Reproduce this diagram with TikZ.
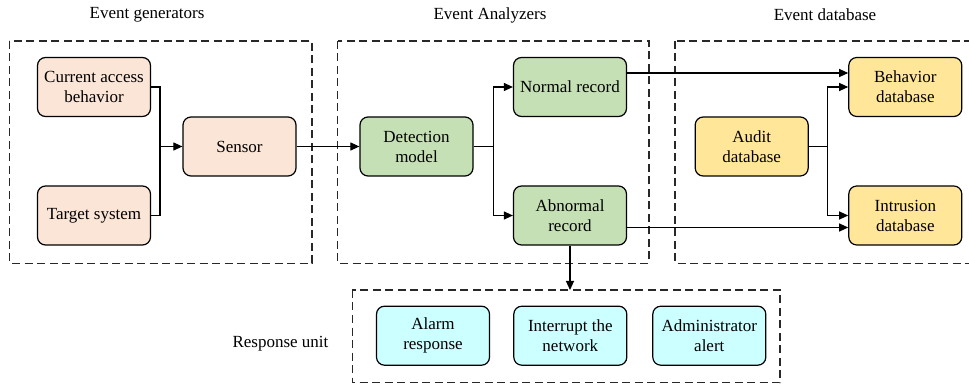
\documentclass[tikz,border=0pt]{standalone}
\usepackage{fontspec}
\setmainfont{Liberation Serif}
\usetikzlibrary{arrows.meta}
\definecolor{peach}{RGB}{251,229,214}
\definecolor{leaf}{RGB}{197,224,180}
\definecolor{sand}{RGB}{255,230,153}
\definecolor{aqua}{RGB}{204,255,255}
\definecolor{framegray}{RGB}{40,40,40}
\tikzset{
  blk/.style={draw=black, line width=1.2pt, rounded corners=8pt, minimum width=113pt, minimum height=59pt, align=center, inner sep=0pt, font=\rmfamily\fontsize{17}{20}\selectfont},
  frame/.style={draw=framegray, line width=1.2pt, dash pattern=on 8pt off 4.5pt},
  conn/.style={draw=black, line width=1.1pt},
  arr/.style={conn, -{Triangle[length=9pt,width=8pt]}},
  ttl/.style={font=\rmfamily\fontsize{17}{20}\selectfont, inner sep=0pt}
}
\begin{document}
\begin{tikzpicture}[x=1pt,y=-1pt]
\useasboundingbox (0,0) rectangle (969,387);
% frames
\draw[frame] (9.3,41) rectangle (312,263.3);
\draw[frame] (337.7,41) rectangle (649,263.3);
\draw[frame] (675,41) rectangle (995,263.3);
\draw[frame] (352.3,290) rectangle (780,382.7);
% titles
\node[ttl] (t1) at (147,15) {Event generators};
\node[ttl] (t2) at (490,15) {Event Analyzers};
\node[ttl] (t3) at (825,15) {Event database};
\node[ttl] (t4) at (280.5,344) {Response unit};
% boxes
\node[blk, fill=peach] (cab) at (94,87) {Current access\\behavior};
\node[blk, fill=peach] (ts) at (94,215.5) {Target system};
\node[blk, fill=peach] (sen) at (239.5,146.5) {Sensor};
\node[blk, fill=leaf] (det) at (416.5,146.5) {Detection\\model};
\node[blk, fill=leaf] (nor) at (570,87) {Normal record};
\node[blk, fill=leaf] (abn) at (570,215.5) {Abnormal\\record};
\node[blk, fill=sand] (aud) at (751.7,146.5) {Audit\\database};
\node[blk, fill=sand] (beh) at (905.3,87) {Behavior\\database};
\node[blk, fill=sand] (intr) at (905.3,215.5) {Intrusion\\database};
\node[blk, fill=aqua] (alm) at (433,335.7) {Alarm\\response};
\node[blk, fill=aqua] (int) at (570.3,335.7) {Interrupt the\\network};
\node[blk, fill=aqua] (adm) at (709.3,335.7) {Administrator\\alert};
% junctions
\coordinate (j1) at (160,146.5);
\coordinate (j2) at (493.3,146.5);
\coordinate (j3) at (827.7,146.5);
\coordinate (rtop) at (570,290);
% connectors
\draw[conn] (cab.east) -| (j1);
\draw[conn] (ts.east) -| (j1);
\draw[arr] (j1) -- (sen.west);
\draw[arr] (sen.east) -- (det.west);
\draw[conn] (det.east) -- (j2);
\draw[arr] (j2) |- (nor.west);
\draw[arr] (j2) |- (abn.west);
\draw[arr] ([yshift=14pt]nor.east) -- ([yshift=14pt]beh.west);
\draw[arr] ([yshift=-12pt]abn.east) -- ([yshift=-12pt]intr.west);
\draw[conn] (aud.east) -- (j3);
\draw[arr] (j3) |- (beh.west);
\draw[arr] (j3) |- (intr.west);
\draw[arr] (abn.south) -- (rtop);
\end{tikzpicture}
\end{document}
